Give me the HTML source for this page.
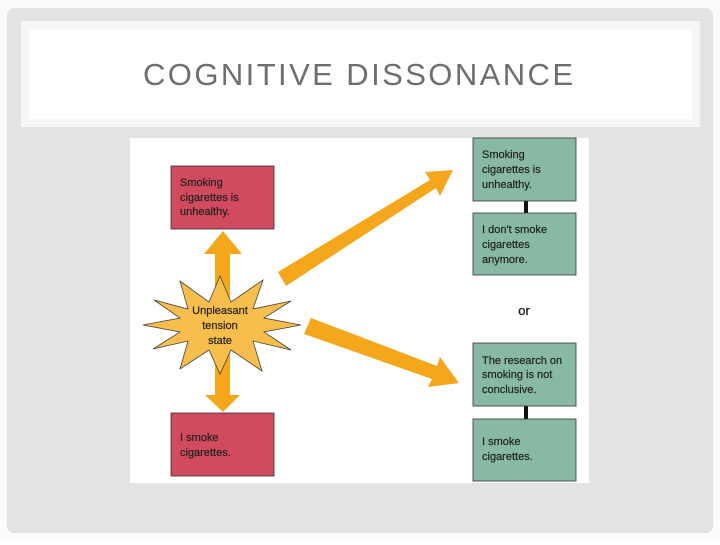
<!DOCTYPE html>
<html><head><style>html,body{margin:0;padding:0;background:#fff;}</style></head>
<body>
<svg width="720" height="540" viewBox="0 0 720 540" xmlns="http://www.w3.org/2000/svg" font-family="Liberation Sans, sans-serif">
<rect x="0" y="0" width="720" height="540" fill="#fbfbfb"/>
<rect x="7" y="8" width="706" height="525" rx="7" fill="#e3e3e3"/>
<rect x="21" y="21" width="679" height="106" fill="#f6f6f6"/>
<rect x="29" y="29" width="663" height="90" fill="#ffffff"/>
<text x="143" y="85" font-size="31" fill="#6b706f" textLength="430" lengthAdjust="spacing">COGNITIVE DISSONANCE</text>
<rect x="130" y="138" width="459" height="345" fill="#ffffff"/>
<rect x="171" y="166" width="103" height="63" fill="#d24a5e" stroke="#333" stroke-width="0.8"/>
<rect x="171" y="413" width="103" height="63" fill="#d24a5e" stroke="#333" stroke-width="0.8"/>
<g font-size="11" fill="#222" stroke="#222" stroke-width="0.2">
<text x="180" y="186">Smoking</text><text x="180" y="201">cigarettes is</text><text x="180" y="215">unhealthy.</text>
<text x="180" y="441">I smoke</text><text x="180" y="456">cigarettes.</text>
</g>
<rect x="524" y="198" width="4" height="18" fill="#111"/>
<rect x="524" y="403" width="4" height="18" fill="#111"/>
<g fill="#88b9a4" stroke="#333" stroke-width="0.8">
<rect x="473" y="138" width="103" height="63"/>
<rect x="473" y="213" width="103" height="62"/>
<rect x="473" y="343" width="103" height="63"/>
<rect x="473" y="419" width="103" height="62"/>
</g>
<g font-size="11" fill="#222" stroke="#222" stroke-width="0.2">
<text x="482" y="158">Smoking</text><text x="482" y="173">cigarettes is</text><text x="482" y="188">unhealthy.</text>
<text x="482" y="233">I don't smoke</text><text x="482" y="248">cigarettes</text><text x="482" y="263">anymore.</text>
<text x="482" y="364">The research on</text><text x="482" y="378">smoking is not</text><text x="482" y="393">conclusive.</text>
<text x="482" y="445">I smoke</text><text x="482" y="460">cigarettes.</text>
</g>
<text x="524" y="315" font-size="13" fill="#222" text-anchor="middle" stroke="#222" stroke-width="0.3">or</text>
<g fill="#f5a71c">
<polygon points="215,395 215,254 204,254 223,231 242,254 230,254 230,395 240,395 223,412 205,395"/>
<polygon points="278,272 430,180 425,172 453,170 440,196 436,188 286,286"/>
<polygon points="311,318 437,366 440,357 459,383 428,387 432,379 304,334"/>
</g>
<polygon fill="#f7be4c" stroke="#444" stroke-width="0.8" points="
220,276 231,302 263,280 253,309 291,301 264,318 301,325 264,332 291,350 253,341 262,371 231,350 220,374 209,350 180,369 188,341 153,349 180,332 143,325 180,318 154,300 188,309 180,281 209,302"/>
<g font-size="11" fill="#222" text-anchor="middle" stroke="#222" stroke-width="0.2">
<text x="220" y="314">Unpleasant</text><text x="220" y="329">tension</text><text x="220" y="344">state</text>
</g>
</svg>
</body></html>
